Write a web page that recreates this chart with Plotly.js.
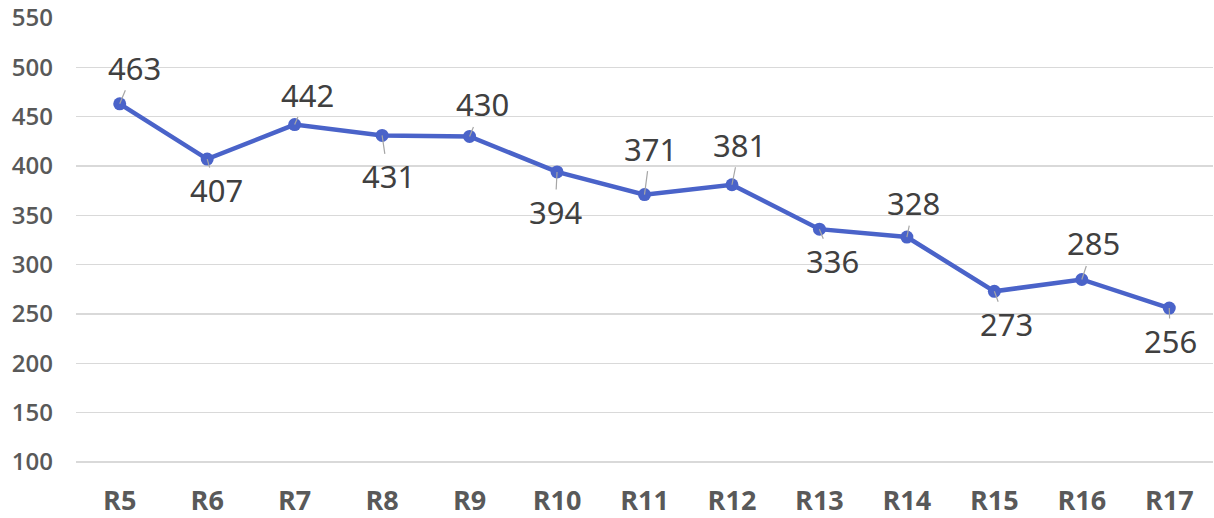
<!DOCTYPE html>
<html>
<head>
<meta charset="utf-8">
<script src="https://cdn.plot.ly/plotly-3.0.1.min.js"></script>
<style>html,body{margin:0;padding:0;background:#fff;}#chart{width:1214px;height:518px;}</style>
</head>
<body>
<div id="chart"></div>
<script>
const categories = ["R5","R6","R7","R8","R9","R10","R11","R12","R13","R14","R15","R16","R17"];
const values = [463,407,442,431,430,394,371,381,336,328,273,285,256];
const yTicks = [100,150,200,250,300,350,400,450,500,550];
// label offsets (pixels) from each point
const labelDx = [15,9,13,6,13,-2,6,8,13,7,12,12,1];
const labelDy = [-36,31,-30,41,-32,40,-46,-40,32,-34,33,-36,33];

const annotations = categories.map((c,i)=>({
  x: c, y: values[i], xref:'x', yref:'y',
  text: String(values[i]),
  showarrow: true, arrowhead: 0, arrowwidth: 1.2, arrowcolor: '#a6a6a6',
  ax: labelDx[i], ay: labelDy[i], standoff: 0,
  font: {family: 'Noto Sans, sans-serif', size: 31, color: '#404040'}
}));

const trace = {
  x: categories, y: values, type: 'scatter', mode: 'lines+markers',
  line: {color: '#4a63c9', width: 4.5},
  marker: {color: '#4a63c9', size: 13},
  hoverinfo: 'none', cliponaxis: false
};

const layout = {
  width: 1214, height: 518,
  margin: {l: 76, r: 1, t: 17, b: 54},
  paper_bgcolor: '#fff', plot_bgcolor: '#fff',
  showlegend: false,
  xaxis: {
    type: 'category', range: [-0.5, 12.5], automargin: false,
    showgrid: false, zeroline: false, showline: false,
    tickfont: {family: 'Open Sans, sans-serif', size: 27, color: '#595959', weight: 700},
    ticks: '', ticklabelstandoff: 18
  },
  yaxis: {
    range: [98, 551], tickvals: yTicks, ticktext: yTicks.map(String), automargin: false,
    showgrid: true, gridcolor: '#d9d9d9', gridwidth: 1.5, zeroline: false, showline: false,
    tickfont: {family: 'Open Sans, sans-serif', size: 24, color: '#595959', weight: 600},
    ticks: '', ticklabelstandoff: 22
  },
  annotations: annotations
};

Plotly.newPlot('chart', [trace], layout, {staticPlot: true});
</script>
</body>
</html>
